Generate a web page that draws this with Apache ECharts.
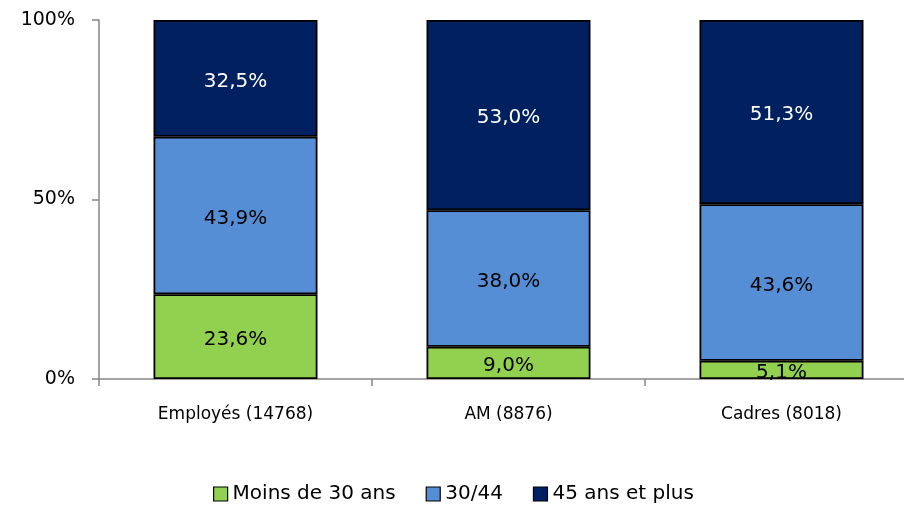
<!DOCTYPE html>
<html>
<head>
<meta charset="utf-8">
<script src="https://cdn.jsdelivr.net/npm/echarts@6/dist/echarts.min.js"></script>
<style>
  html, body { margin: 0; padding: 0; background: #fff; overflow: hidden; }
  #chart { width: 918px; height: 505px; }
</style>
</head>
<body>
<div id="chart"></div>
<script>
const categories = ['Employés (14768)', 'AM (8876)', 'Cadres (8018)'];
const seriesNames = ['Moins de 30 ans', '30/44', '45 ans et plus'];
const moins30 = [23.6, 9.0, 5.1];
const age3044 = [43.9, 38.0, 43.6];
const plus45 = [32.5, 53.0, 51.3];
const yTicks = [0, 50, 100];

const FONT = '"DejaVu Sans", sans-serif';
const colors = ['#92D050', '#558ED5', '#002060'];
const labelColors = ['#000', '#000', '#fff'];

// the category axis runs past the right edge of the window, so the div is wider than 904
const chart = echarts.init(document.getElementById('chart'));

const seriesData = [moins30, age3044, plus45];
chart.setOption({
  animation: false,
  textStyle: { fontFamily: FONT },
  grid: { left: 99, right: 0, top: 20, bottom: 126, containLabel: false },
  legend: {
    bottom: -4,
    left: 208,
    itemWidth: 14,
    itemHeight: 14,
    itemGap: 30,
    textStyle: { fontFamily: FONT, fontSize: 20, color: '#000' },
    data: seriesNames.map((n, i) => ({
      name: n,
      icon: 'rect',
      itemStyle: { color: colors[i], borderColor: '#000', borderWidth: 1.2 }
    }))
  },
  xAxis: {
    type: 'category',
    data: categories,
    axisLine: { lineStyle: { color: '#868686', width: 1.5 } },
    axisTick: { show: true, length: 7, lineStyle: { color: '#868686', width: 1.5 } },
    axisLabel: { margin: 27, fontSize: 17, color: '#000', fontFamily: FONT }
  },
  yAxis: {
    type: 'value',
    min: yTicks[0],
    max: yTicks[yTicks.length - 1],
    interval: 50,
    axisLine: { show: true, lineStyle: { color: '#868686', width: 1.5 } },
    axisTick: { show: true, length: 7, lineStyle: { color: '#868686', width: 1.5 } },
    splitLine: { show: false },
    axisLabel: { formatter: '{value}%', fontSize: 19, color: '#000', margin: 24, fontFamily: FONT }
  },
  series: seriesNames.map((name, i) => ({
    name: name,
    type: 'bar',
    stack: 'total',
    barWidth: 164,
    data: seriesData[i],
    itemStyle: { color: colors[i], borderColor: '#000', borderWidth: 1.8 },
    label: {
      show: true,
      position: 'inside',
      offset: [0, 3],
      fontSize: 20,
      fontFamily: FONT,
      color: labelColors[i],
      formatter: p => p.value.toFixed(1).replace('.', ',') + '%'
    }
  }))
});
</script>
</body>
</html>
